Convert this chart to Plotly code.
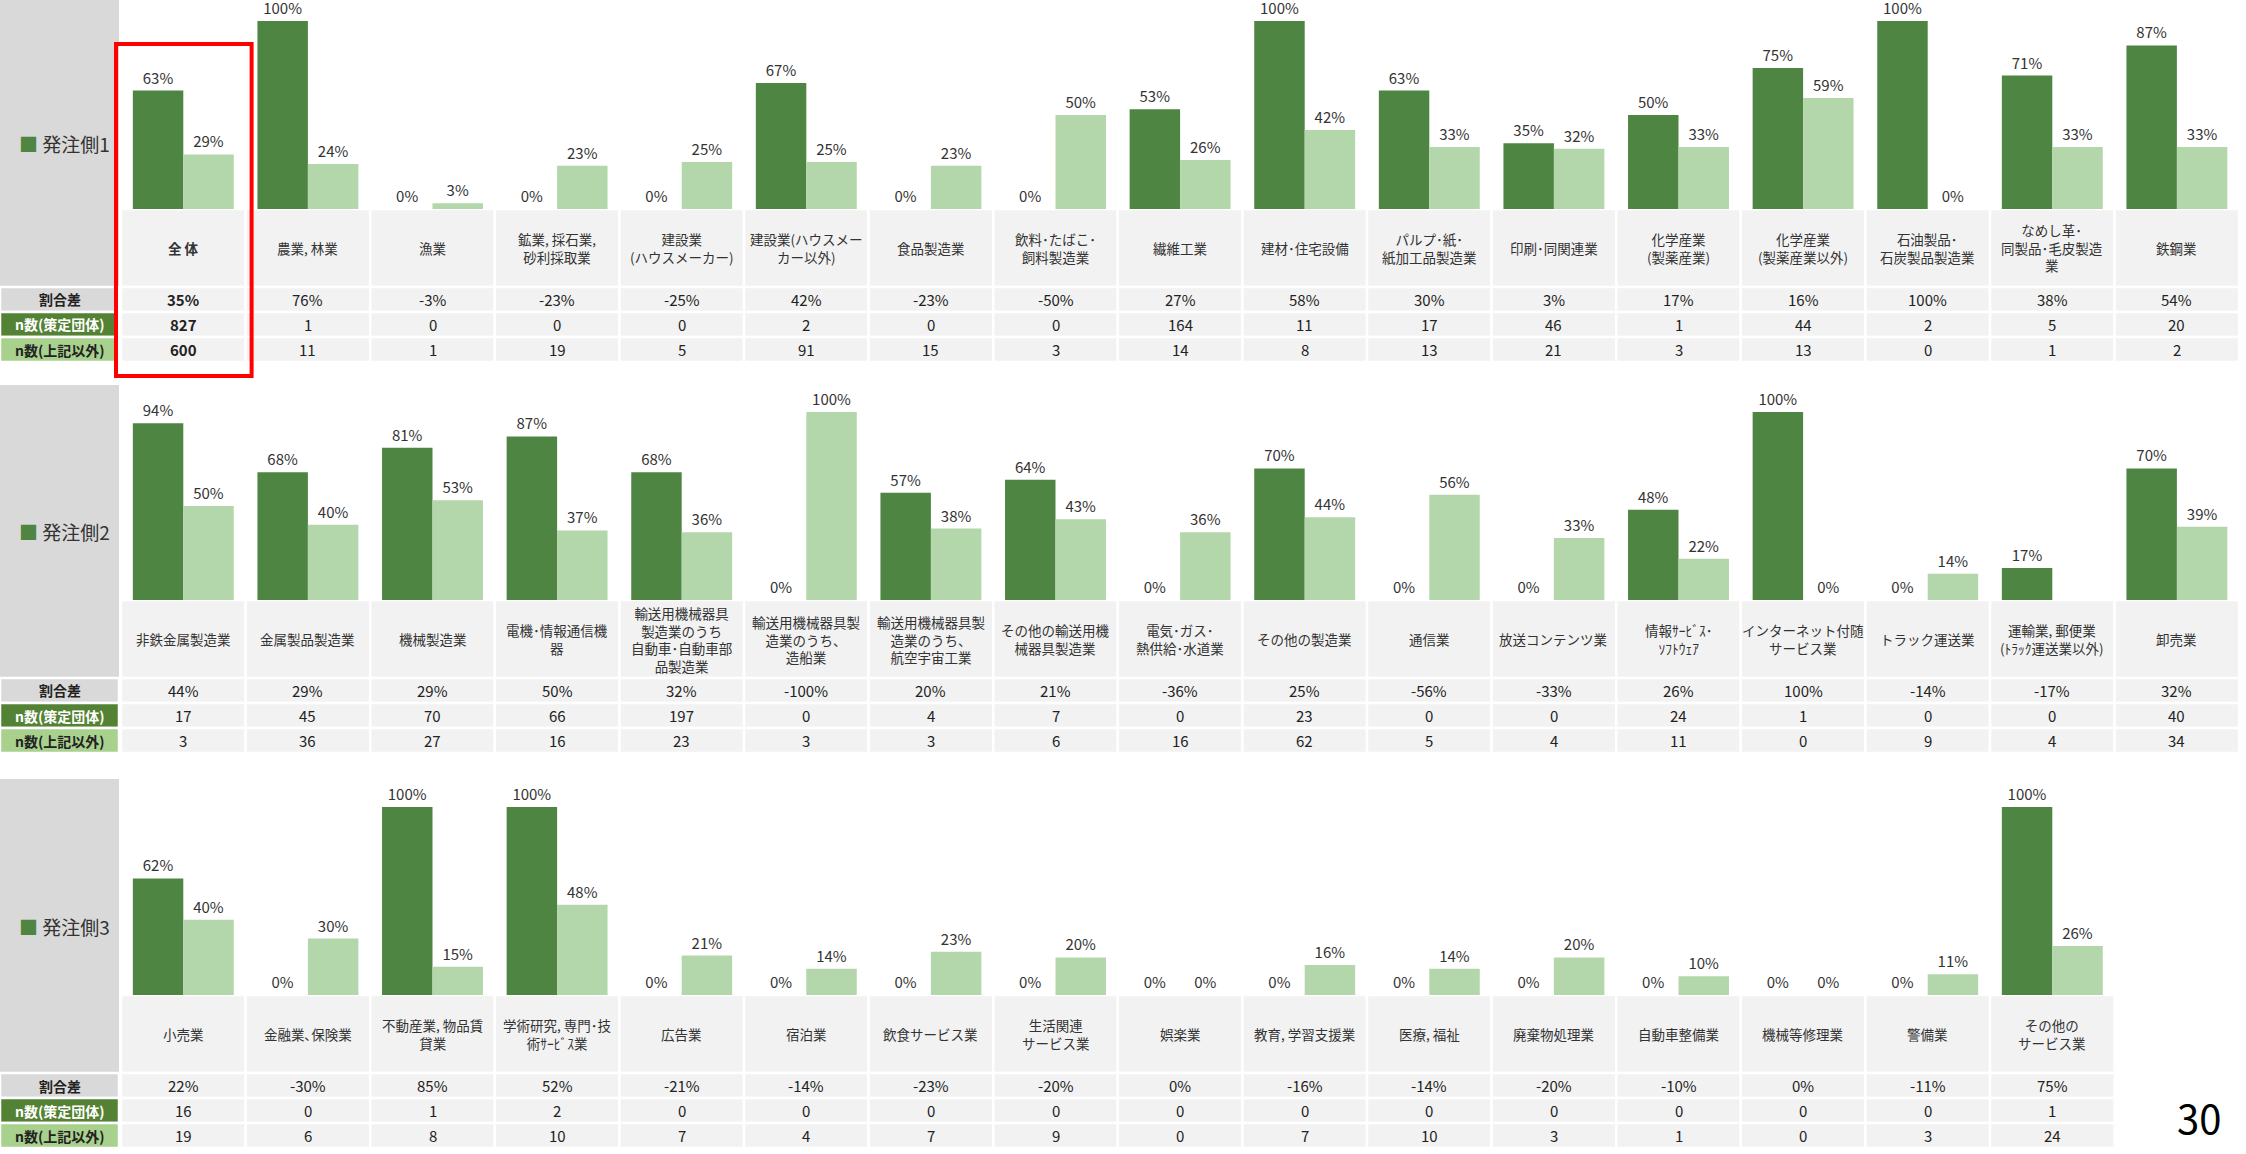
import plotly.graph_objects as go

W, H = 2246, 1154

# ---------------- data ----------------
cats1 = ["<b>全 体</b>", "農業, 林業", "漁業", "鉱業, 採石業,<br>砂利採取業", "建設業<br>(ハウスメーカー)",
         "建設業(ハウスメー<br>カー以外)", "食品製造業", "飲料･たばこ･<br>飼料製造業", "繊維工業", "建材･住宅設備",
         "パルプ･紙･<br>紙加工品製造業", "印刷･同関連業", "化学産業<br>(製薬産業)", "化学産業<br>(製薬産業以外)",
         "石油製品･<br>石炭製品製造業", "なめし革･<br>同製品･毛皮製造<br>業", "鉄鋼業"]
order1 = [63, 100, 0, 0, 0, 67, 0, 0, 53, 100, 63, 35, 50, 75, 100, 71, 87]
other1 = [29, 24, 3, 23, 25, 25, 23, 50, 26, 42, 33, 32, 33, 59, 0, 33, 33]
diff1 = ["35%", "76%", "-3%", "-23%", "-25%", "42%", "-23%", "-50%", "27%", "58%", "30%", "3%", "17%", "16%", "100%", "38%", "54%"]
norg1 = [827, 1, 0, 0, 0, 2, 0, 0, 164, 11, 17, 46, 1, 44, 2, 5, 20]
noth1 = [600, 11, 1, 19, 5, 91, 15, 3, 14, 8, 13, 21, 3, 13, 0, 1, 2]

cats2 = ["非鉄金属製造業", "金属製品製造業", "機械製造業", "電機･情報通信機<br>器",
         "輸送用機械器具<br>製造業のうち<br>自動車･自動車部<br>品製造業", "輸送用機械器具製<br>造業のうち、<br>造船業",
         "輸送用機械器具製<br>造業のうち、<br>航空宇宙工業", "その他の輸送用機<br>械器具製造業", "電気･ガス･<br>熱供給･水道業",
         "その他の製造業", "通信業", "放送コンテンツ業", "情報ｻｰﾋﾞｽ･<br>ｿﾌﾄｳｪｱ", "インターネット付随<br>サービス業",
         "トラック運送業", "運輸業, 郵便業<br>(ﾄﾗｯｸ運送業以外)", "卸売業"]
order2 = [94, 68, 81, 87, 68, 0, 57, 64, 0, 70, 0, 0, 48, 100, 0, 17, 70]
other2 = [50, 40, 53, 37, 36, 100, 38, 43, 36, 44, 56, 33, 22, 0, 14, None, 39]
diff2 = ["44%", "29%", "29%", "50%", "32%", "-100%", "20%", "21%", "-36%", "25%", "-56%", "-33%", "26%", "100%", "-14%", "-17%", "32%"]
norg2 = [17, 45, 70, 66, 197, 0, 4, 7, 0, 23, 0, 0, 24, 1, 0, 0, 40]
noth2 = [3, 36, 27, 16, 23, 3, 3, 6, 16, 62, 5, 4, 11, 0, 9, 4, 34]

cats3 = ["小売業", "金融業､保険業", "不動産業, 物品賃<br>貸業", "学術研究, 専門･技<br>術ｻｰﾋﾞｽ業", "広告業", "宿泊業",
         "飲食サービス業", "生活関連<br>サービス業", "娯楽業", "教育, 学習支援業", "医療, 福祉", "廃棄物処理業",
         "自動車整備業", "機械等修理業", "警備業", "その他の<br>サービス業"]
order3 = [62, 0, 100, 100, 0, 0, 0, 0, 0, 0, 0, 0, 0, 0, 0, 100]
other3 = [40, 30, 15, 48, 21, 14, 23, 20, 0, 16, 14, 20, 10, 0, 11, 26]
diff3 = ["22%", "-30%", "85%", "52%", "-21%", "-14%", "-23%", "-20%", "0%", "-16%", "-14%", "-20%", "-10%", "0%", "-11%", "75%"]
norg3 = [16, 0, 1, 2, 0, 0, 0, 0, 0, 0, 0, 0, 0, 0, 0, 1]
noth3 = [19, 6, 8, 10, 7, 4, 7, 9, 0, 7, 10, 3, 1, 0, 3, 24]

panel_titles = ["発注側1", "発注側2", "発注側3"]
row_labels = ["割合差", "n数(策定団体)", "n数(上記以外)"]
page_no = "30"

# ---------------- style ----------------
DARK = "#4E8542"
LIGHT = "#B4D6AB"
CELL = "#F2F2F2"
GRAY = "#D9D9D9"
ROWFILL = [GRAY, "#548235", "#A9D18E"]
ROWTXT = ["#222222", "#FFFFFF", "#222222"]
FONT = "Noto Sans CJK JP"

panels = [
    dict(cats=cats1, o=order1, t=other1, d=diff1, n1=norg1, n2=noth1, base=209, top=0),
    dict(cats=cats2, o=order2, t=other2, d=diff2, n1=norg2, n2=noth2, base=600, top=385),
    dict(cats=cats3, o=order3, t=other3, d=diff3, n1=norg3, n2=noth3, base=995, top=779),
]
BAR_H = 188
CAT_H = 78
ROW_H = 25
X0 = 121
COL_W = 124.6
LABEL_W = 119


def py(p):
    return 1 - p / H


def px(p):
    return p / W


fig = go.Figure()
shapes = []
annos = []
layout_axes = {}

for k, P in enumerate(panels):
    n = len(P["cats"])
    sfx = "" if k == 0 else str(k + 1)
    xa, ya = "x" + sfx, "y" + sfx
    base = P["base"]
    xs = list(range(n))

    def lab(v):
        return [("" if a is None else f"{a}%") for a in v]

    for vals, col, name in [(P["o"], DARK, "策定団体"), (P["t"], LIGHT, "上記以外")]:
        fig.add_trace(go.Bar(
            x=xs, y=vals, marker=dict(color=col, line=dict(width=0)),
            text=lab(vals), textposition="outside", cliponaxis=False,
            textfont=dict(size=15, color="#333333", family=FONT),
            constraintext="none", textangle=0, xaxis=xa, yaxis=ya,
            name=name, showlegend=False, hoverinfo="skip"))

    layout_axes["xaxis" + sfx] = dict(
        domain=[px(X0), px(X0 + n * COL_W)], range=[-0.5, n - 0.5],
        showgrid=False, zeroline=False, showticklabels=False, showline=False,
        anchor=ya, fixedrange=True)
    layout_axes["yaxis" + sfx] = dict(
        domain=[py(base), py(base - BAR_H)], range=[0, 100],
        showgrid=False, zeroline=False, showticklabels=False, showline=False,
        anchor=xa, fixedrange=True)

    # gray label block
    shapes.append(dict(type="rect", xref="paper", yref="paper", x0=0, x1=px(LABEL_W),
                       y0=py(base + CAT_H), y1=py(P["top"]), fillcolor=GRAY,
                       line=dict(width=0), layer="below"))
    annos.append(dict(xref="paper", yref="paper", x=px(17), y=py((P["top"] + base + CAT_H) / 2),
                      xanchor="left", yanchor="middle", showarrow=False,
                      text=f"<span style='color:{DARK}'>■</span> {panel_titles[k]}",
                      font=dict(size=19, color="#333333", family=FONT)))

    # category row
    for i in range(n):
        shapes.append(dict(type="rect", xref=xa, yref="paper", x0=i - 0.5, x1=i + 0.5,
                           y0=py(base + CAT_H), y1=py(base), fillcolor=CELL,
                           line=dict(width=2.5, color="white"), layer="below"))
        annos.append(dict(xref=xa, yref="paper", x=i, y=py(base + CAT_H / 2),
                          xanchor="center", yanchor="middle", showarrow=False,
                          text=P["cats"][i], font=dict(size=13.5, color="#333333", family=FONT)))

    # table rows
    rows = [P["d"], [str(v) for v in P["n1"]], [str(v) for v in P["n2"]]]
    for r in range(3):
        y0 = base + CAT_H + r * ROW_H
        y1 = y0 + ROW_H
        shapes.append(dict(type="rect", xref="paper", yref="paper", x0=0, x1=px(LABEL_W),
                           y0=py(y1), y1=py(y0), fillcolor=ROWFILL[r],
                           line=dict(width=2.5, color="white"), layer="below"))
        annos.append(dict(xref="paper", yref="paper", x=px(LABEL_W / 2), y=py((y0 + y1) / 2),
                          xanchor="center", yanchor="middle", showarrow=False,
                          text=f"<b>{row_labels[r]}</b>",
                          font=dict(size=14, color=ROWTXT[r], family=FONT)))
        for i in range(n):
            shapes.append(dict(type="rect", xref=xa, yref="paper", x0=i - 0.5, x1=i + 0.5,
                               y0=py(y1), y1=py(y0), fillcolor=CELL,
                               line=dict(width=2.5, color="white"), layer="below"))
            txt = rows[r][i]
            if k == 0 and i == 0:
                txt = f"<b>{txt}</b>"
            annos.append(dict(xref=xa, yref="paper", x=i, y=py((y0 + y1) / 2),
                              xanchor="center", yanchor="middle", showarrow=False,
                              text=txt, font=dict(size=15, color="#222222", family=FONT)))

# red highlight around the overall column (paper coords so it is not clipped)
shapes.append(dict(type="rect", xref="paper", yref="paper", x0=px(X0 - 5), x1=px(X0 + COL_W + 6),
                   y0=py(376), y1=py(44), fillcolor="rgba(0,0,0,0)",
                   line=dict(width=4, color="#FF0000"), layer="above"))

annos.append(dict(xref="paper", yref="paper", x=px(2199), y=py(1117), xanchor="center",
                  yanchor="middle", showarrow=False, text=page_no,
                  font=dict(size=40, color="#000000", family=FONT)))

fig.update_layout(
    width=W, height=H, margin=dict(l=0, r=0, t=0, b=0),
    paper_bgcolor="white", plot_bgcolor="rgba(0,0,0,0)",
    barmode="group", bargap=0.19, bargroupgap=0,
    shapes=shapes, annotations=annos, showlegend=False,
    font=dict(family=FONT), uniformtext=dict(mode=False),
    **layout_axes)

fig.write_html("out.html")
